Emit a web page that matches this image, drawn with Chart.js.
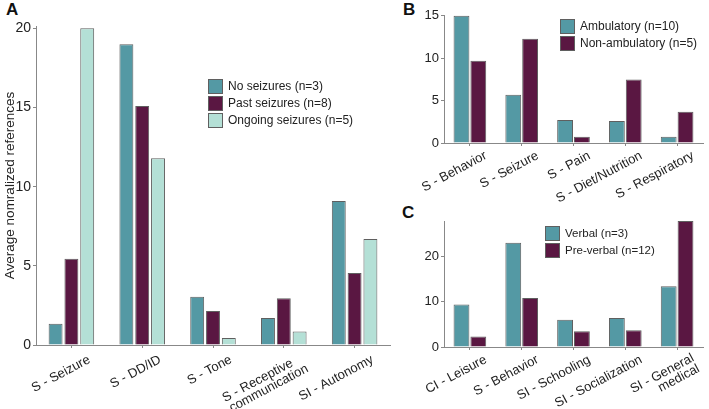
<!DOCTYPE html>
<html>
<head>
<meta charset="utf-8">
<script src="https://cdn.jsdelivr.net/npm/chart.js@4.4.1/dist/chart.umd.min.js"></script>
<style>
  body { margin: 0; background: #fff; width: 709px; height: 409px; position: relative; overflow: hidden; font-family: "Liberation Sans", Arial, sans-serif; }
  canvas { position: absolute; }
  .panel { position: absolute; font-weight: bold; font-size: 17px; color: #111; }
</style>
</head>
<body>
<div class="panel" style="left:6px;top:0px;">A</div>
<div class="panel" style="left:403px;top:0px;">B</div>
<div class="panel" style="left:402px;top:203px;">C</div>
<canvas id="chartA" width="400" height="409" style="left:0;top:0;"></canvas>
<canvas id="chartB" width="309" height="210" style="left:400px;top:0;"></canvas>
<canvas id="chartC" width="309" height="209" style="left:400px;top:200px;"></canvas>
<script>
// Panel A data
const catsA = ['S - Seizure', 'S - DD/ID', 'S - Tone', ['S - Receptive   ', 'communication'], 'SI - Autonomy'];
const noSeizures = [1.35, 19.0, 3.05, 1.7, 9.1];
const pastSeizures = [5.45, 15.1, 2.15, 2.95, 4.55];
const ongoingSeizures = [20.0, 11.8, 0.45, 0.85, 6.7];

// Panel B data
const catsB = ['S - Behavior', 'S - Seizure', 'S - Pain', 'S - Diet/Nutrition', 'S - Respiratory'];
const ambulatory = [15.0, 5.7, 2.7, 2.6, 0.75];
const nonAmbulatory = [9.7, 12.3, 0.75, 7.5, 3.7];

// Panel C data
const catsC = ['CI - Leisure', 'S - Behavior', 'SI - Schooling', 'SI - Socialization', ['SI - General', 'medical']];
const verbal = [9.4, 23.0, 6.0, 6.4, 13.4];
const preVerbal = [2.3, 10.8, 3.5, 3.7, 27.8];

const TEAL = '#5499a4';
const PURPLE = '#5a1742';
const MINT = '#b4e0d6';
const EDGE = '#5f5f5f';
const FONT = '"Liberation Sans", Arial, sans-serif';

Chart.defaults.font.family = FONT;
Chart.defaults.color = '#222';
Chart.defaults.animation = false;

// draws the square-box legend at a fixed spot
const boxLegend = {
    id: 'boxLegend',
    afterDraw(chart, args, opts) {
        const c = chart.ctx;
        c.save();
        c.font = opts.size + 'px ' + FONT;
        c.textBaseline = 'middle';
        chart.data.datasets.forEach((ds, i) => {
            const y = opts.y + i * opts.pitch;
            c.fillStyle = ds.backgroundColor;
            c.fillRect(opts.x, y, 15, 15);
            c.strokeStyle = EDGE;
            c.lineWidth = 1;
            c.strokeRect(opts.x + 0.5, y + 0.5, 14, 14);
            c.fillStyle = '#222';
            c.fillText(ds.label, opts.x + 20, y + 8);
        });
        c.restore();
    }
};

function barSet(label, data, color) {
    return {
        label: label,
        data: data,
        backgroundColor: color,
        borderColor: EDGE,
        borderWidth: 1,
        borderSkipped: 'bottom'
    };
}

// two-line labels sit a bit tighter
function tickFont(ctx) {
    const lbl = ctx.tick && ctx.tick.label;
    return Array.isArray(lbl) ? { size: 13, lineHeight: '12px' } : { size: 13 };
}

function makeChart(id, cats, datasets, o) {
    return new Chart(document.getElementById(id), {
        type: 'bar',
        data: { labels: cats, datasets: datasets },
        plugins: [boxLegend],
        options: {
            responsive: false,
            layout: { padding: { top: o.top, right: o.right, left: 0, bottom: 0 } },
            datasets: { bar: { categoryPercentage: o.catPct, barPercentage: o.barPct } },
            plugins: {
                legend: { display: false },
                tooltip: { enabled: false },
                boxLegend: o.legend
            },
            scales: {
                x: {
                    afterFit: (s) => { s.height = o.xHeight; },
                    border: { display: true, color: '#888', width: 1 },
                    grid: { offset: false, drawOnChartArea: false, drawTicks: true, tickLength: 3, color: '#888' },
                    ticks: {
                        autoSkip: false,
                        maxRotation: 28,
                        minRotation: 28,
                        padding: o.xPad,
                        labelOffset: o.xShift,
                        font: tickFont,
                        color: '#222'
                    }
                },
                y: {
                    min: 0,
                    max: o.max,
                    afterFit: (s) => { s.width = o.yWidth; },
                    border: { display: true, color: '#888', width: 1 },
                    grid: { drawOnChartArea: false, drawTicks: true, tickLength: 3, color: '#888' },
                    ticks: { stepSize: o.step, includeBounds: false, padding: 2, font: { size: o.yFont }, color: '#222' },
                    title: o.yTitle ? {
                        display: true,
                        text: o.yTitle,
                        font: { size: 13.5 },
                        color: '#222',
                        padding: { top: 2, bottom: 0 }
                    } : { display: false }
                }
            }
        }
    });
}

makeChart('chartA', catsA, [
    barSet('No seizures (n=3)', noSeizures, TEAL),
    barSet('Past seizures (n=8)', pastSeizures, PURPLE),
    barSet('Ongoing seizures (n=5)', ongoingSeizures, MINT)
], {
    top: 26, right: 10, xHeight: 64, yWidth: 36, max: 20.15, step: 5,
    catPct: 0.67, barPct: 0.88, yFont: 14, xPad: 4, xShift: 18,
    yTitle: 'Average nomralized references',
    legend: { x: 208, y: 79, pitch: 17, size: 12 }
});

makeChart('chartB', catsB, [
    barSet('Ambulatory (n=10)', ambulatory, TEAL),
    barSet('Non-ambulatory (n=5)', nonAmbulatory, PURPLE)
], {
    top: 15, right: 6, xHeight: 67, yWidth: 44, max: 15.1, step: 5,
    catPct: 0.65, barPct: 0.94, yFont: 13, xPad: 2, xShift: 16,
    legend: { x: 160, y: 19, pitch: 17, size: 12 }
});

makeChart('chartC', catsC, [
    barSet('Verbal (n=3)', verbal, TEAL),
    barSet('Pre-verbal (n=12)', preVerbal, PURPLE)
], {
    top: 21, right: 6, xHeight: 62, yWidth: 44, max: 27.8, step: 10,
    catPct: 0.65, barPct: 0.94, yFont: 13, xPad: 2, xShift: 16,
    legend: { x: 145, y: 26, pitch: 17, size: 11.5 }
});
</script>
</body>
</html>
